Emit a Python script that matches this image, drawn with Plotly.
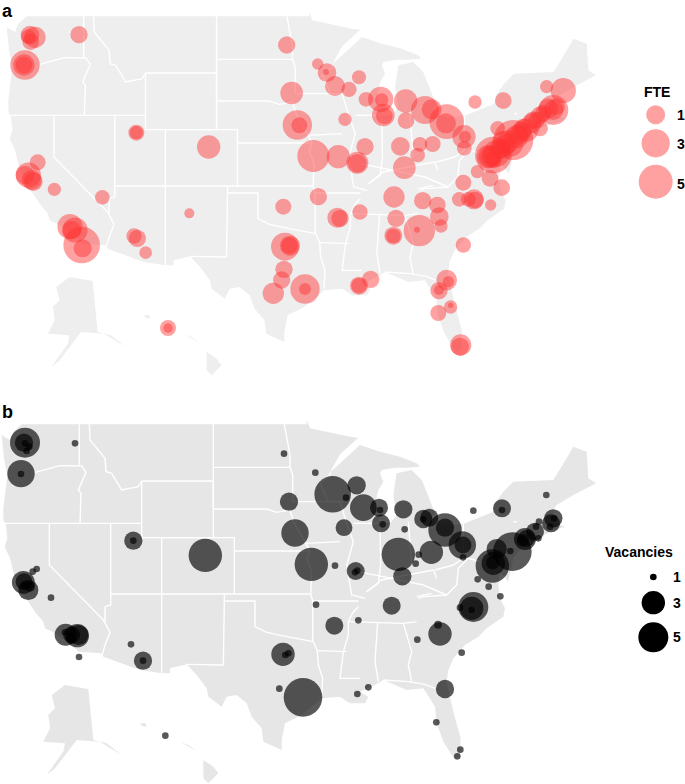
import numpy as np
import plotly.graph_objects as go

# ---- base map, in map units (3 units = 1 px of panel b, y measured from y=395) ----
land = [(65,88),(40,110),(30,135),(0,118),(5,120),(12,190),(22,240),(10,340),(10,375),(18,390),(22,430),(14,455),(30,490),(40,530),(60,590),(85,620),(105,650),(130,680),(135,700),(165,715),(210,745),(235,770),(305,775),(310,785),(420,825),(485,835),(510,835),(510,820),(560,808),(590,840),(620,880),(625,905),(665,935),(680,905),(710,900),(740,925),(755,965),(785,1000),(790,1040),(845,1065),(845,1035),(855,985),(905,960),(965,910),(1020,905),(1050,925),(1095,925),(1105,905),(1080,890),(1125,870),(1150,855),(1220,885),(1270,880),(1305,935),(1310,985),(1330,1040),(1365,1095),(1380,1085),(1382,1030),(1360,950),(1340,860),(1345,825),(1360,790),(1395,750),(1435,725),(1460,700),(1510,665),(1515,640),(1500,610),(1495,570),(1500,530),(1525,560),(1540,490),(1555,470),(1615,425),(1695,395),(1665,385),(1660,345),(1670,330),(1720,300),(1788,265),(1765,250),(1760,170),(1720,155),(1700,190),(1660,255),(1590,258),(1540,260),(1510,290),(1485,325),(1480,350),(1395,385),(1345,392),(1305,382),(1295,365),(1305,355),(1280,290),(1265,255),(1235,225),(1190,235),(1180,300),(1190,360),(1170,385),(1140,385),(1125,330),(1135,285),(1150,260),(1140,235),(1145,225),(1185,218),(1220,218),(1260,215),(1250,205),(1200,185),(1140,170),(1080,150),(1020,205),(990,232),(1020,178),(1075,128),(1050,125),(1000,115),(930,100),(920,75),(920,88)]
land_x = [p[0] for p in land]
land_y = [p[1] for p in land]
ak_x = [195,265,280,320,365,300,230,200,165,140,190,195,150,130,150,145,165,155]
ak_y = [870,882,1035,1045,1080,1040,1035,1075,1120,1140,1070,1045,1040,1040,1000,960,940,900]
hi_x = [610,640,655,625,610,None,420,438,438,425,None,540,565,590,575]
hi_y = [1095,1115,1135,1165,1150,None,985,985,995,992,None,1040,1050,1068,1060]

border_x = [105,180,245,None,238,238,None,245,258,235,243,240,None,268,270,315,318,335,365,415,425,None,10,425,None,148,148,310,330,315,305,None,332,332,315,315,None,332,932,None,485,485,None,425,640,640,425,425,None,485,703,703,None,485,485,None,640,640,None,640,870,None,640,800,830,870,None,703,930,None,853,870,870,878,878,None,870,880,915,930,920,935,932,938,None,673,673,765,765,800,860,940,952,None,938,938,None,952,1040,None,952,955,968,965,None,673,670,560,None,935,1075,None,990,990,960,985,1020,1030,1040,1060,1040,1055,1095,None,878,1030,None,920,1020,None,1060,1115,1140,None,1075,1060,1045,1045,1030,1020,1080,None,1045,1133,1210,1250,None,1133,1125,1135,None,1210,1235,1225,1235,None,1150,1225,1275,1305,None,1140,1142,1135,1100,None,1100,1145,1220,1300,1310,None,1225,1235,None,1305,1360,1390,None,1390,1390,None,1075,1270,1340,None,1340,1370,1375,1405,1440,1490,None,1255,1270,1340,None,1250,1295,1370,1430,None,1295,1360,None,1395,1540,1550,None,1540,1530,None,1390,1530,None,1530,1530,None,1500,1505,None,1590,1595,None,1630,1630,None,1660,1670,None,1595,1660,None,1595,1645,None,1595,1595,None,1645,1650,None,1080,1145,1150,None,1060,1140]
border_y = [232,212,213,None,88,210,None,213,232,285,295,385,None,88,135,190,230,235,285,275,258,None,385,385,None,385,510,675,712,750,785,None,385,630,635,680,None,597,597,None,597,835,None,258,258,428,428,258,None,428,428,597,None,428,597,None,88,342,None,217,217,None,342,342,352,345,None,468,468,None,88,180,217,240,320,None,345,380,440,470,490,530,597,618,None,597,618,618,695,712,725,740,767,None,618,740,None,767,770,None,767,810,850,905,None,618,810,808,None,618,618,None,232,240,265,320,320,355,385,440,510,600,610,None,320,320,None,445,440,None,385,385,385,None,635,650,680,720,770,850,850,None,680,682,685,680,None,682,800,860,None,685,770,810,860,None,855,860,868,880,None,385,510,565,590,None,590,555,540,525,550,None,380,510,None,525,510,490,None,385,490,None,530,570,600,None,600,570,520,490,500,510,None,610,605,600,None,605,595,None,490,480,None,480,540,None,380,380,400,None,380,480,None,260,345,None,340,260,None,255,330,None,345,345,None,365,370,None,345,400,None,365,390,None,150,200,220,None,620,620]

# ---- panel a: position and full-time-equivalent count of each site ----
fte_x = [90,105,92,85,237,75,72,72,409,409,626,860,953,981,978,1005,875,892,898,940,1015,955,850,1012,855,870,868,852,845,820,915,915,113,85,95,100,75,163,307,210,225,215,245,248,402,412,437,568,504,504,
         1077,1047,1098,1142,1145,1150,1153,1035,1217,1218,1275,1295,1340,1338,1392,1395,1393,1425,1510,1493,1095,1072,1072,1201,1260,1298,1253,1213,1182,1268,1312,1318,1323,1378,1405,1422,1425,1472,1390,1505,1432,1470,1080,1188,1258,1251,1180,1180,1390,1020,1340,1345,1317,1317,1352,1352,1315,1382,1380,1112,1077,1077,
         1640,1690,1660,1660,1630,1670,1620,1580,1565,1595,1610,1540,1530,1550,1520,1480,1490,1465,1475,1500,1480,
         1555,1570,1600,1620,1645,1470,1500,1525,1510]
fte_y = [105,112,125,110,104,195,195,195,398,398,441,135,192,218,216,258,279,375,376,468,470,590,620,653,740,737,737,808,840,880,867,867,487,525,540,545,525,568,592,680,690,690,735,745,708,715,758,640,984,984,
         232,268,298,298,300,345,348,358,303,362,330,328,365,370,410,410,445,306,302,385,440,488,490,439,433,432,465,503,591,602,615,650,678,598,598,598,600,615,548,563,515,535,636,655,692,689,707,708,735,655,840,845,872,870,921,916,939,1035,1040,838,857,857,
         260,272,330,330,340,320,385,390,395,370,360,420,430,410,440,465,460,470,470,450,480,
         405,385,360,345,325,470,445,430,425]
fte_value = [0.95,1.38,0.69,0.49,0.77,3.35,1.38,0.69,0.62,0.37,1.77,0.77,0.24,0.95,0.04,1.15,1.63,3.35,0.62,4.27,1.77,0.77,0.62,1.15,2.94,1.15,0.69,0.77,0.77,1.38,3.35,0.28,0.62,2.2,1.15,0.95,0.95,0.37,0.49,2.2,2.2,0.95,6.2,0.86,0.55,0.77,0.32,0.17,0.62,0.14,
             0.43,0.55,0.49,2.2,0.37,1.63,0.69,0.37,1.77,0.69,2.94,1.15,5.3,1.15,1.77,0.28,0.49,0.37,0.69,0.49,0.77,1.5,0.95,0.95,0.49,0.62,0.49,1.63,1.38,0.77,0.69,0.95,0.37,0.49,0.49,1.15,0.69,0.24,0.62,0.69,0.37,0.69,0.55,0.77,4.0,0.04,0.86,0.49,0.55,0.77,1.26,0.24,0.77,0.17,0.37,0.03,0.62,1.38,0.86,0.77,0.86,0.55,
             0.37,2.2,3.56,1.15,0.69,0.69,0.62,1.77,1.15,1.15,0.69,7.9,2.6,1.77,0.69,6.2,2.6,1.77,1.15,0.95,0.69,
             1.2,1.0,0.8,0.8,1.1,1.5,1.2,1.2,1.5]
fte_legend = [1, 3, 5]

# ---- panel b: site tables (map x, map y, vacancies) ----
vac_west = [(75,143,5),(72,143,2.05),(75,145,1),(88,155,1),(80,168,1),(225,145,1),(63,236,4),(63,237,1),(852,176,1),(946,233,1),(998,298,6.6),(867,320,2.05),(885,414,4),(934,508,6),(1005,512,1),(948,629,1),(1003,692,2),(400,437,2.05),(400,437,1),(616,481,6),(110,522,1),(98,530,1),(70,562,2.9),(72,560,1.9),(75,570,1.1),(85,585,2.4),(90,575,1.3),(153,608,1),(197,719,2.75),(195,712,1),(232,722,3),(215,720,1.9),(212,730,1.3),(235,720,2.4),(237,786,1),(393,748,1),(429,797,2.05),(429,797,1),(849,778,3),(865,775,1),(856,780,1),(838,881,1),(909,907,7),(496,1022,1)]
vac_east = [(12,398,1.9),(18,308,1),(50,271,2.05),(70,338,3.8),(117,338,2),(120,345,1),(123,385,2),(128,388,1),(190,343,2.05),(194,403,1),(250,372,2.05),(268,368,2),(250,373,1),(315,405,6),(315,398,2.05),(367,450,4),(369,450,1.9),(369,487,1),(175,478,6),(274,472,3),(236,479,1),(227,506,1),(187,544,2.05),(47,528,2),(45,532,1),(52,527,0.8),(400,347,1),(486,340,2),(486,345,1),(155,632,2),(55,676,1),(300,717,3),(294,689,1.1),(232,734,1),(365,773,1),(315,882,2.05),(289,982,1),(361,1064,1),(352,1084,1),(85,877,1),(52,897,1),(400,636,5),(395,640,3),(395,645,1),(360,638,1),(413,553,1),(446,575,1),(481,604,1),(517,470,7.2),(470,462,2.4),(457,513,6),(460,505,3),(458,503,1.6),(511,468,1),(555,432,2.75),(548,436,1.5),(560,430,1.9),(595,430,1),(588,395,1),(585,410,2),(597,380,1),(640,370,2.05),(633,385,2),(642,370,1),(630,395,1),(619,300,1)]
vac_x = [s[0] for s in vac_west] + [s[0] + 1020 for s in vac_east]
vac_y = [s[1] + 1185 for s in vac_west + vac_east]
vac_value = [s[2] for s in vac_west + vac_east]
vac_legend = [1, 3, 5]

RED = "rgba(255,50,50,0.46)"
BLACK = "rgba(0,0,0,0.65)"
FONT = "Liberation Sans"

def fte_diameter(v):
    return 2 * 9.5 * np.power(np.asarray(v, float), 0.36)

def vac_diameter(v):
    return 2 * np.interp(v, [1, 2, 3, 4, 5, 6, 7], [10/3, 9, 11.7, 13.7, 15, 16.7, 19.3])

def to_a(xs, ys):
    x = [None if p is None else (p + 15.3) / 1.0086 for p in xs]
    y = [None if p is None else p - 39 for p in ys]
    return x, y

def to_b(xs, ys):
    return list(xs), [None if p is None else p + 1185 for p in ys]

fig = go.Figure()

def add_map(conv, colour):
    for xs, ys in ((land_x, land_y), (ak_x, ak_y), (hi_x, hi_y)):
        x, y = conv(xs, ys)
        fig.add_trace(go.Scatter(x=x, y=y, mode="lines", fill="toself", fillcolor=colour,
                                 line=dict(width=0), hoverinfo="skip", showlegend=False))
    x, y = conv(border_x, border_y)
    fig.add_trace(go.Scatter(x=x, y=y, mode="lines", line=dict(color="white", width=1.4),
                             hoverinfo="skip", showlegend=False))

def add_bubbles(x, y, d, colour):
    fig.add_trace(go.Scatter(x=x, y=y, mode="markers", showlegend=False,
                             marker=dict(size=d, sizemode="diameter", color=colour, opacity=1, line=dict(width=0))))

add_map(to_a, "#eeeeef")
add_map(to_b, "#e6e6e6")
add_bubbles(fte_x, fte_y, fte_diameter(fte_value), RED)
add_bubbles(vac_x, vac_y, vac_diameter(vac_value), BLACK)

# legends
add_bubbles([1967, 1967, 1967], [344, 430, 545], fte_diameter(fte_legend), RED)
add_bubbles([1960, 1960, 1960], [1731, 1808, 1912], vac_diameter(vac_legend), "black")

def label(px, py, text, size=14):
    fig.add_annotation(x=px * 3, y=py * 3, xref="x", yref="y", text=f"<b>{text}</b>", showarrow=False,
                       xanchor="left", yanchor="middle", font=dict(family=FONT, size=size, color="black"))

label(0, 10.5, "a", 18)
label(0, 412, "b", 18)
label(642, 92, "FTE", 14)
for v, py in zip(fte_legend, [115, 144, 184]):
    label(675, py, str(v), 14)
label(603, 552, "Vacancies", 14)
for v, py in zip(vac_legend, [577, 603, 637]):
    label(670.5, py, str(v), 14)

axis = dict(visible=False, showgrid=False, zeroline=False, fixedrange=True)
fig.update_layout(width=685, height=784, margin=dict(l=0, r=0, t=0, b=0), autosize=False,
                  paper_bgcolor="white", plot_bgcolor="white", showlegend=False,
                  xaxis=dict(range=[0, 2055], domain=[0, 1], **axis),
                  yaxis=dict(range=[2352, 0], domain=[0, 1], **axis))
fig.write_html("out.html", config=dict(displayModeBar=False),
               post_script="document.body.style.margin='0';document.body.style.overflow='hidden';")
